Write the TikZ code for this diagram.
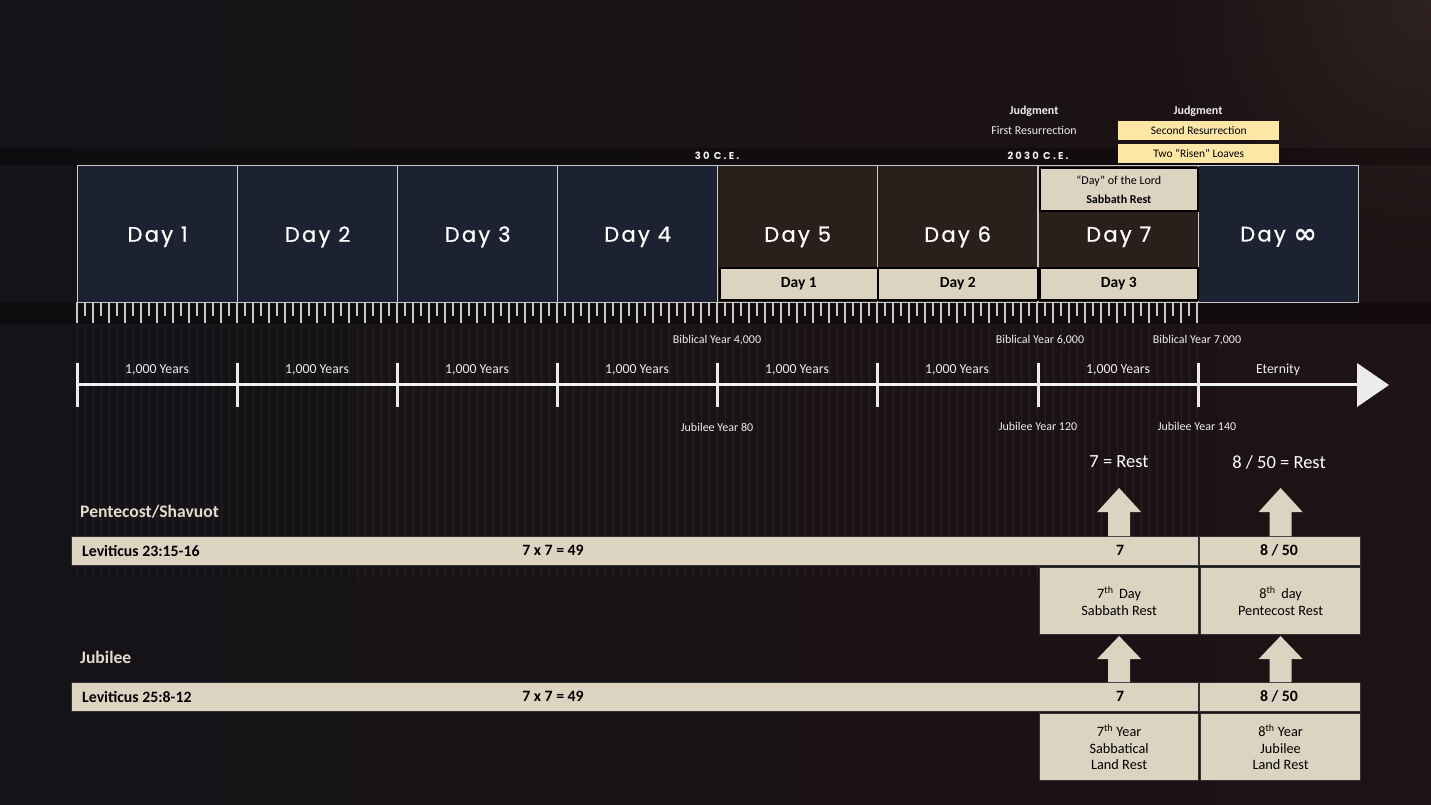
\documentclass[tikz,border=0pt]{standalone}
\usepackage{fontspec}
\setmainfont{Carlito}
\newfontfamily\dayfont[LetterSpace=11,FakeBold=0.8]{Poppins}
\newfontfamily\cefont[LetterSpace=22]{Poppins}
\newfontfamily\symfont{DejaVu Sans}
\usetikzlibrary{calc}
\definecolor{bgdark}{HTML}{141318}
\definecolor{bgbrown}{HTML}{1E1214}
\definecolor{bgtop}{HTML}{3A2C2A}
\definecolor{navy}{HTML}{1D2232}
\definecolor{brownday}{HTML}{2A1F1B}
\definecolor{beige}{HTML}{DDD3C1}
\definecolor{paleyellow}{HTML}{FDE7A7}
\definecolor{lightline}{HTML}{C9C9C9}
\definecolor{labeltxt}{HTML}{EDEDED}
\definecolor{headtxt}{HTML}{E4DCCB}
\tikzset{
  daybox/.style={draw=lightline, line width=1.3pt, minimum width=160pt, minimum height=137pt, anchor=north west, inner sep=0pt,
    font=\dayfont\fontsize{21}{23}\selectfont, text=white, text depth=0pt},
  subbox/.style={draw=black, line width=1.6pt, fill=beige, inner sep=0pt, anchor=north west, font=\bfseries\fontsize{15.5}{17}\selectfont, text=black},
  ybox/.style={fill=paleyellow, inner sep=0pt, minimum width=161pt, minimum height=19pt, anchor=north west, font=\fontsize{11.5}{13}\selectfont, text=black},
  small/.style={font=\fontsize{12}{14}\selectfont, text=labeltxt, inner sep=0pt},
  smallb/.style={font=\bfseries\fontsize{12}{14}\selectfont, text=labeltxt, inner sep=0pt},
  yrs/.style={font=\fontsize{13.8}{15}\selectfont, text=labeltxt, inner sep=0pt},
  bar/.style={draw=black!80, line width=1.2pt, fill=beige, inner sep=0pt, anchor=north west, minimum height=29pt},
  bartxt/.style={font=\bfseries\fontsize{15.8}{17}\selectfont, text=black, inner sep=0pt},
  infobox/.style={draw=black!80, line width=1.2pt, fill=beige, inner sep=0pt, anchor=north west, minimum width=159pt, minimum height=67pt, align=center, font=\fontsize{14.3}{16.5}\selectfont, text=black},
  rest/.style={font=\fontsize{18.5}{20}\selectfont, text=white, inner sep=0pt},
  section/.style={font=\bfseries\fontsize{17.6}{19}\selectfont, text=headtxt, inner sep=0pt, anchor=west},
  ce/.style={font=\cefont\bfseries\fontsize{10}{12}\selectfont, text=labeltxt, inner sep=0pt},
}
\begin{document}
\begin{tikzpicture}[x=1pt,y=-1pt]
% background
\useasboundingbox (0,0) rectangle (1431,805);
\shade[left color=bgdark, right color=bgbrown] (0,0) rectangle (1431,805);
\shade[inner color=bgtop, outer color=bgbrown, opacity=0.6] (1431,0) circle (260);
\fill[black, opacity=0.3] (0,148) rectangle (1431,165);
\fill[black, opacity=0.35] (0,302) rectangle (1431,324);
% faint vertical stripes
\foreach \i in {0,...,140} {
  \draw[white, opacity=0.06, line width=1pt] ({77+\i*8},324) -- ({77+\i*8},580);
}
% ruler ticks
\foreach \i in {0,...,140} {
  \pgfmathsetmacro{\len}{mod(\i,2)==0 ? 21 : 14}
  \draw[lightline, line width=1.2pt] ({77+\i*8},302) -- ({77+\i*8},{302+\len});
}
% day boxes
\node[daybox, fill=navy] (d1) at (77,165) {Day 1};
\node[daybox, fill=navy] (d2) at (237,165) {Day 2};
\node[daybox, fill=navy] (d3) at (397,165) {Day 3};
\node[daybox, fill=navy] (d4) at (557,165) {Day 4};
\node[daybox, fill=brownday] (d5) at (717,165) {Day 5};
\node[daybox, fill=brownday] (d6) at (877,165) {Day 6};
\node[daybox, fill=brownday] (d7) at (1038,165) {Day 7};
\node[daybox, fill=navy] (d8) at (1198,165) {Day \raisebox{-2.5pt}{\symfont\bfseries\fontsize{28}{28}\selectfont ∞}};
% sub boxes
\node[subbox, minimum width=158pt, minimum height=32pt] (s1) at (719,267) {Day 1};
\node[subbox, minimum width=160pt, minimum height=32pt] (s2) at (877,267) {Day 2};
\node[subbox, minimum width=158pt, minimum height=32pt] (s3) at (1039,267) {Day 3};
\node[subbox, minimum width=158pt, minimum height=43pt, font=\fontsize{12}{19}\selectfont, align=center] (lord) at (1039,167) {“Day” of the Lord\\\textbf{Sabbath Rest}};
% top labels
\node[ce] (ce30) at (717,156) {30 C.E.};
\node[ce] (ce2030) at (1038,156) {2030 C.E.};
\node[smallb] (j1) at (1034,111) {Judgment};
\node[small] (fr) at (1034,130) {First Resurrection};
\node[smallb] (j2) at (1198,111) {Judgment};
\node[ybox] (sr) at (1118,121) {Second Resurrection};
\node[ybox] (tl) at (1118,144) {Two “Risen” Loaves};
% timeline
\coordinate (t0) at (77,384);
\coordinate (tend) at (1360,384);
\draw[white!90!gray, line width=3pt] (t0) -- (tend);
\fill[white!85!gray] (1357,363) -- (1389,385) -- (1357,407) -- cycle;
\foreach \x in {77,237,397,557,717,877,1038,1198} {
  \draw[white!85!gray, line width=3pt] (\x,363) -- (\x,407);
}
\foreach \x in {157,317,477,637,797,957,1118} {
  \node[yrs] at (\x,370) {1,000 Years};
}
\node[yrs] (etern) at (1278,370) {Eternity};
\node[small] (b4) at (717,340) {Biblical Year 4,000};
\node[small] (b6) at (1040,340) {Biblical Year 6,000};
\node[small] (b7) at (1197,340) {Biblical Year 7,000};
\node[small] (j80) at (717,427) {Jubilee Year 80};
\node[small] (j120) at (1038,426) {Jubilee Year 120};
\node[small] (j140) at (1197,426) {Jubilee Year 140};
% rest labels
\node[rest] (r7) at (1119,462) {7 = Rest};
\node[rest] (r8) at (1279,462) {8 / 50 = Rest};
% section 1
\node[section] (pent) at (80,512) {Pentecost/Shavuot};
\node[bar, minimum width=1127pt] (bar1) at (71,536) {};
\node[bar, minimum width=161pt] (bar1b) at (1199,536) {};
\node[bartxt, anchor=west] (lev1) at (82,551) {Leviticus 23:15-16};
\node[bartxt] (m1) at (553,550) {7 x 7 = 49};
\node[bartxt] (n7a) at (1120,550) {7};
\node[bartxt] (n8a) at (1279,550) {8 / 50};
\node[infobox] (ib1) at (1039,567) {7\textsuperscript{th}\, Day\\Sabbath Rest};
\node[infobox, minimum width=160pt] (ib2) at (1200,567) {8\textsuperscript{th}\, day\\Pentecost Rest};
% section 2
\node[section] (jub) at (80,657) {Jubilee};
\node[bar, minimum width=1127pt] (bar2) at (71,682) {};
\node[bar, minimum width=161pt] (bar2b) at (1199,682) {};
\node[bartxt, anchor=west] (lev2) at (82,697) {Leviticus 25:8-12};
\node[bartxt] (m2) at (553,696) {7 x 7 = 49};
\node[bartxt] (n7b) at (1120,696) {7};
\node[bartxt] (n8b) at (1279,696) {8 / 50};
\node[infobox] (ib3) at (1039,713) {7\textsuperscript{th} Year\\Sabbatical\\Land Rest};
\node[infobox, minimum width=160pt] (ib4) at (1200,713) {8\textsuperscript{th} Year\\Jubilee\\Land Rest};
% block arrows
\foreach \a/\b in {ib1/r7, ib2/r8} {
  \path let \p1=(\a.north), \p2=(\b.south) in
    coordinate (base) at (\x1,536) coordinate (tip) at (\x1,488);
  \fill[beige] ($(base)+(-11,0)$) -- ($(base)+(-11,-24)$) -- ($(base)+(-22,-24)$) -- (tip) -- ($(base)+(22,-24)$) -- ($(base)+(11,-24)$) -- ($(base)+(11,0)$) -- cycle;
}
\foreach \a/\b in {ib3/ib1, ib4/ib2} {
  \path let \p1=(\a.north), \p2=(\b.south) in
    coordinate (base) at (\x1,682) coordinate (tip) at (\x1,636);
  \fill[beige] ($(base)+(-11,0)$) -- ($(base)+(-11,-23)$) -- ($(base)+(-22,-23)$) -- (tip) -- ($(base)+(22,-23)$) -- ($(base)+(11,-23)$) -- ($(base)+(11,0)$) -- cycle;
}
\end{tikzpicture}
\end{document}
